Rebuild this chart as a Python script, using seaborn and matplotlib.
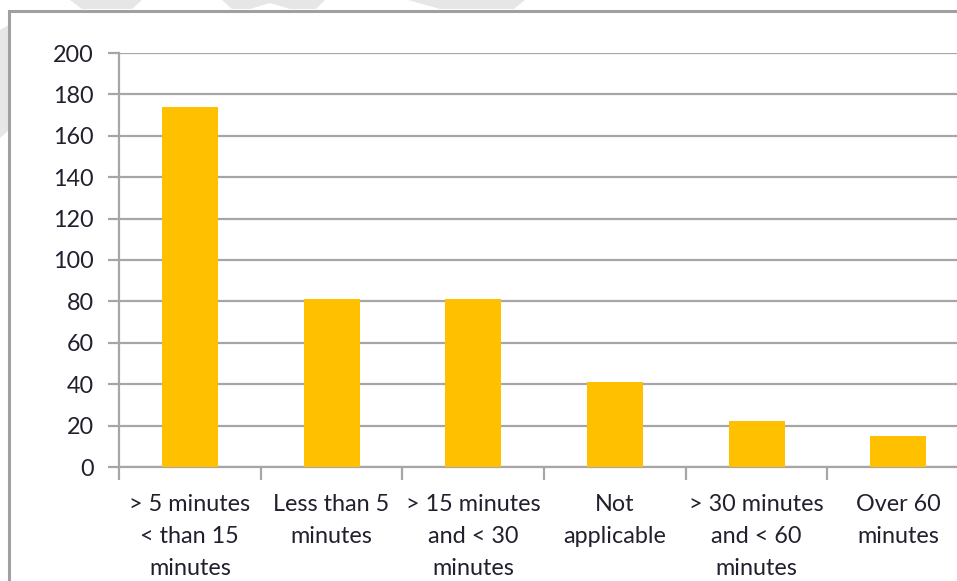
import matplotlib
matplotlib.use("Agg")
import matplotlib.pyplot as plt
from matplotlib.patches import Rectangle, Polygon
import seaborn as sns
import pandas as pd

# Travel time categories and respondent counts
categories = [
    "> 5 minutes\n< than 15\nminutes",
    "Less than 5\nminutes",
    "> 15 minutes\nand < 30\nminutes",
    "Not\napplicable",
    "> 30 minutes\nand < 60\nminutes",
    "Over 60\nminutes",
]
counts = [174, 81, 81, 41, 22, 15]
y_ticks = [0, 20, 40, 60, 80, 100, 120, 140, 160, 180, 200]

BAR = "#FFC000"
GRID = "#a6a6a6"
TEXT = "#20202e"
FS = 16.8

sns.set_theme(style="white")
plt.rcParams["font.family"] = ["Lato", "DejaVu Sans"]

W, H = 957, 581
fig = plt.figure(figsize=(W / 100, H / 100), dpi=100)
fig.patch.set_facecolor("white")

def px(x, y):
    return (x / W, 1 - y / H)

# faint background shapes peeking above the chart frame
for pts in [
    [(70, 0), (142, 0), (132, 9), (82, 9)],
    [(222, 0), (325, 0), (316, 9), (290, 9), (270, 3), (250, 9), (232, 9)],
    [(408, 0), (525, 0), (514, 9), (440, 9)],
    [(0, 30), (14, 22), (9, 130), (0, 138)],
]:
    fig.patches.append(Polygon([px(*p) for p in pts], closed=True,
                               transform=fig.transFigure, facecolor="#e6e6e6",
                               edgecolor="none", zorder=0))

# chart frame (runs off the right and bottom edges)
fig.patches.append(Rectangle(px(9, 600), 1000 / W, 589 / H,
                             transform=fig.transFigure, facecolor="white",
                             edgecolor="#a0a0a0", linewidth=2.2, zorder=1))

left, top, bottom = 119, 53, 467
right = 119 + 6 * 141.7
ax = fig.add_axes([left / W, 1 - bottom / H, (right - left) / W, (bottom - top) / H])
ax.set_zorder(2)
ax.patch.set_alpha(0)

df = pd.DataFrame({"category": categories, "count": counts})
sns.barplot(data=df, x="category", y="count", color=BAR, saturation=1,
            width=0.395, linewidth=0, ax=ax, zorder=3)

ax.set_ylim(0, 200)
ax.set_xlim(-0.5, len(categories) - 0.5)
ax.set_yticks(y_ticks)
ax.set_yticklabels([str(v) for v in y_ticks], fontsize=FS, color=TEXT)
ax.yaxis.grid(True, color=GRID, linewidth=1.6, zorder=0)
ax.set_axisbelow(True)

ax.set_xticks(range(len(categories)))
ax.set_xticklabels(categories, fontsize=FS, color=TEXT, linespacing=1.63)
ax.set_xticks([i - 0.5 for i in range(len(categories) + 1)], minor=True)
ax.tick_params(axis="x", which="major", length=0, pad=19.5)
ax.tick_params(axis="x", which="minor", length=9, width=1.6, color=GRID,
               direction="out", bottom=True)
ax.tick_params(axis="y", length=8, width=1.6, color=GRID, direction="out",
               left=True, pad=10)
ax.set_xlabel("")
ax.set_ylabel("")

for side in ("top", "right"):
    ax.spines[side].set_visible(False)
for side in ("left", "bottom"):
    ax.spines[side].set_color(GRID)
    ax.spines[side].set_linewidth(1.6)

fig.savefig("out.png", dpi=100)
